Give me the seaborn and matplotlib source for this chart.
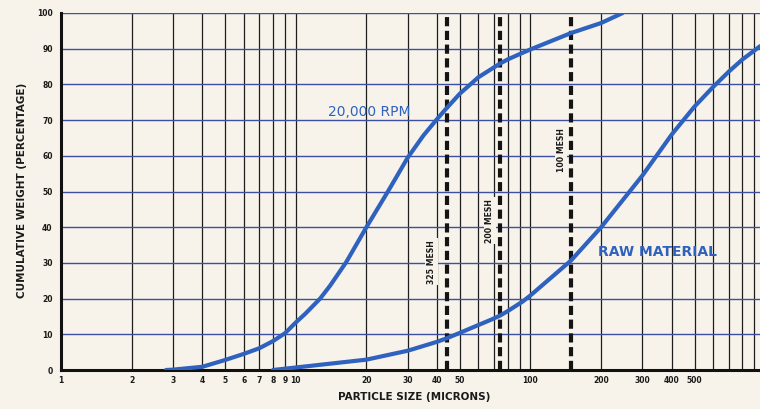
import matplotlib
matplotlib.use('Agg')
import matplotlib.pyplot as plt
import seaborn as sns
import pandas as pd

# ---------------- data ----------------
rpm_size = [2.8, 3, 4, 5, 6, 7, 8, 9, 10, 11, 12.7, 14, 16.4, 20, 24.7, 30, 35, 40, 44, 50, 60, 74, 80, 90, 100, 149, 200, 247]
rpm_weight = [0, 0.1, 0.9, 2.8, 4.5, 6.1, 8.1, 10.3, 13.3, 15.8, 20.0, 23.6, 30.2, 40, 50, 59.5, 65.7, 70.3, 73.4, 77.4, 82.0, 85.8, 87, 88.5, 89.8, 94.4, 97.2, 100]

raw_size = [8, 10, 20, 30, 40, 44, 50, 60, 68, 74, 80, 92.7, 100, 149, 200, 300, 400, 500, 600, 700, 800, 900, 950]
raw_weight = [0, 0.7, 2.9, 5.4, 7.9, 8.9, 10.4, 12.6, 14.1, 15.2, 16.5, 19.2, 20.9, 30.7, 40, 54.5, 66, 73.8, 79.3, 83.6, 87, 89.5, 90.7]

series_names = ['20,000 RPM', 'RAW MATERIAL']

mesh_sizes = [44, 74, 149]
mesh_labels = ['325 MESH', '200 MESH', '100 MESH']

x_grid_values = [1, 2, 3, 4, 5, 6, 7, 8, 9, 10, 20, 30, 40, 50, 60, 70, 80, 90,
                 100, 200, 300, 400, 500, 600, 700, 800, 900]
x_tick_labels = ['1', '2', '3', '4', '5', '6', '7', '8', '9', '10', '20', '30', '40', '50', '', '', '', '',
                 '100', '200', '300', '400', '500', '', '', '', '']
y_tick_values = [0, 10, 20, 30, 40, 50, 60, 70, 80, 90, 100]
y_tick_labels = ['0', '10', '20', '30', '40', '50', '60', '70', '80', '90', '100']

# ---------------- style ----------------
paper = '#f7f3ea'
blue = '#2f62bf'
sns.set_style('white')
plt.rcParams['font.family'] = ['DejaVu Sans']

df = pd.concat([
    pd.DataFrame({'size': rpm_size, 'weight': rpm_weight, 'series': series_names[0]}),
    pd.DataFrame({'size': raw_size, 'weight': raw_weight, 'series': series_names[1]}),
])

fig = plt.figure(figsize=(7.6, 4.09), dpi=100, facecolor=paper)
ax = fig.add_axes([61 / 760, 1 - 370 / 409, 699 / 760, 357 / 409])
ax.set_facecolor(paper)

sns.lineplot(data=df, x='size', y='weight', hue='series', palette=[blue, blue],
             linewidth=3.0, legend=False, ax=ax, zorder=4,
             solid_capstyle='round', solid_joinstyle='round')

ax.set_xscale('log')
ax.set_xlim(1, 950)
ax.set_ylim(0, 100)

ax.set_xticks(x_grid_values)
ax.set_xticklabels(x_tick_labels)
ax.xaxis.set_minor_locator(matplotlib.ticker.NullLocator())
ax.set_yticks(y_tick_values)
ax.set_yticklabels(y_tick_labels)
ax.tick_params(axis='both', length=0, labelsize=5.5, labelcolor='#1a1a1a')
ax.tick_params(axis='x', pad=4)
ax.tick_params(axis='y', pad=6)
for lab in ax.get_xticklabels() + ax.get_yticklabels():
    lab.set_fontweight('bold')

ax.grid(axis='x', color='#1e1e1e', linewidth=0.9)
ax.grid(axis='y', color='#3d4fa3', linewidth=1.0)
ax.set_axisbelow(True)

for side in ['top', 'right']:
    ax.spines[side].set_visible(False)
for side in ['left', 'bottom']:
    ax.spines[side].set_color('#111111')
    ax.spines[side].set_linewidth(2.2)

# mesh lines
label_y = [30.3, 41.8, 61.5]
label_x = [37.9, 67, 135]
for m, lab, lx, ly in zip(mesh_sizes, mesh_labels, label_x, label_y):
    ax.axvline(m, color='#141414', linewidth=3.0, linestyle=(0, (2.2, 1.1)), zorder=3)
    ax.text(lx, ly, lab, rotation=90, ha='center', va='center', fontsize=5.6,
            fontweight='bold', color='#1a1a1a', zorder=3,
            bbox=dict(facecolor=paper, edgecolor='none', pad=1.2))

ax.text(20.6, 72.4, series_names[0], color=blue, fontsize=10, ha='center', va='center', zorder=5)
ax.text(193, 33.1, series_names[1], color=blue, fontsize=10, fontweight='semibold',
        ha='left', va='center', zorder=5)

ax.set_xlabel('')
ax.set_ylabel('')
fig.text(22 / 760, 1 - 190 / 409, 'CUMULATIVE WEIGHT (PERCENTAGE)', rotation=90,
         ha='center', va='center', fontsize=7.5, fontweight='bold', color='#1a1a1a')
fig.text(414 / 760, 1 - 397 / 409, 'PARTICLE SIZE (MICRONS)',
         ha='center', va='center', fontsize=7.5, fontweight='bold', color='#1a1a1a')

fig.savefig('out.png', dpi=100, facecolor=paper)
